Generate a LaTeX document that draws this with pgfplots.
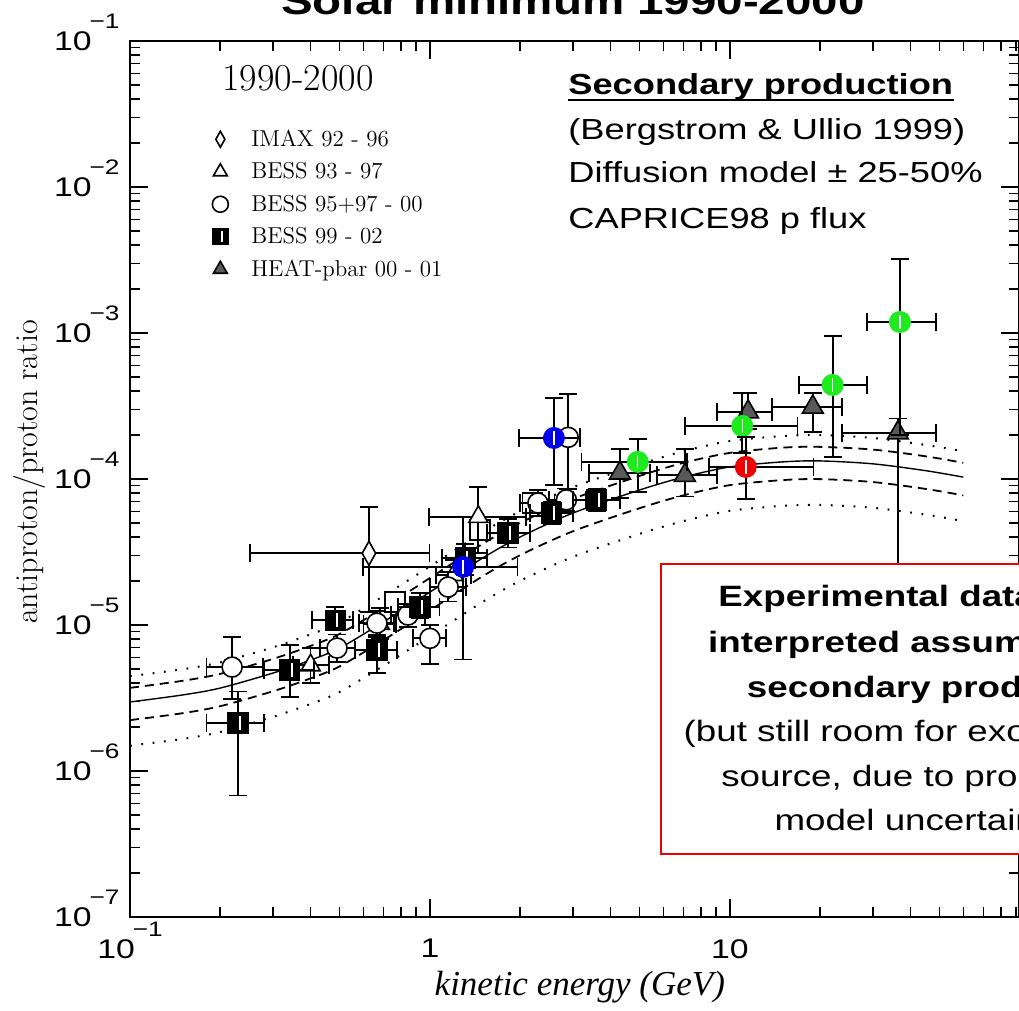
\documentclass[border=0pt]{standalone}
\usepackage{fontspec}
\usepackage{graphicx}
\usepackage{pgfplots}
\pgfplotsset{compat=1.18}
\newfontfamily\arialw[FakeStretch=1.25]{Liberation Sans}
\newfontfamily\timesf{Liberation Serif}
\definecolor{pgreen}{RGB}{30,235,30}
\definecolor{pblue}{RGB}{0,0,235}
\definecolor{pred}{RGB}{240,0,0}

\pgfdeclareplotmark{stripesq}{%
  \pgfpathrectangle{\pgfqpoint{-\pgfplotmarksize}{-\pgfplotmarksize}}{\pgfqpoint{2\pgfplotmarksize}{2\pgfplotmarksize}}%
  \pgfusepathqfillstroke
  \pgfscope
  \pgfsetstrokecolor{white}\pgfsetlinewidth{0.8pt}%
  \pgfpathmoveto{\pgfqpoint{0.2\pgfplotmarksize}{-0.7\pgfplotmarksize}}%
  \pgfpathlineto{\pgfqpoint{0.2\pgfplotmarksize}{0.7\pgfplotmarksize}}%
  \pgfusepathqstroke
  \endpgfscope}
\pgfdeclareplotmark{stripecirc}{%
  \pgfpathcircle{\pgfpointorigin}{\pgfplotmarksize}%
  \pgfusepathqfill
  \pgfscope
  \pgfsetstrokecolor{white}\pgfsetlinewidth{0.7pt}%
  \pgfpathmoveto{\pgfqpoint{0pt}{-0.6\pgfplotmarksize}}%
  \pgfpathlineto{\pgfqpoint{0pt}{0.6\pgfplotmarksize}}%
  \pgfusepathqstroke
  \endpgfscope}

\newcommand{\tenexp}[1]{10\kern-1pt\smash{\raisebox{0.8em}{\fontsize{10.5}{10.5}\selectfont −#1}}}

\pgfplotsset{
  ebar/.style={only marks,
    error bars/x dir=both, error bars/x explicit,
    error bars/y dir=both, error bars/y explicit,
    error bars/error bar style={line width=0.9pt, black},
    error bars/error mark options={rotate=90, mark size=4.5pt, line width=0.9pt, black}},
}

\begin{document}
\begin{tikzpicture}
\begin{axis}[
  scale only axis, width=444.5pt, height=438pt,
  xmode=log, ymode=log,
  xmin=0.1, xmax=92, ymin=1e-7, ymax=1e-1,
  clip mode=individual,
  axis line style={line width=1.1pt},
  major tick style={line width=0.8pt, black},
  minor tick style={line width=0.8pt, black},
  major tick length=9pt, minor tick length=5pt,
  xtick={0.1,1,10}, xticklabels={\tenexp{1},1,10},
  minor xtick={0.2,0.3,0.4,0.5,0.6,0.7,0.8,0.9,2,3,4,5,6,7,8,9,20,30,40,50,60,70,80,90},
  ytick={1e-7,1e-6,1e-5,1e-4,1e-3,1e-2,1e-1},
  yticklabels={\tenexp{7},\tenexp{6},\tenexp{5},\tenexp{4},\tenexp{3},\tenexp{2},\tenexp{1}},
  minor ytick={2e-7,3e-7,4e-7,5e-7,6e-7,7e-7,8e-7,9e-7,
    2e-6,3e-6,4e-6,5e-6,6e-6,7e-6,8e-6,9e-6,
    2e-5,3e-5,4e-5,5e-5,6e-5,7e-5,8e-5,9e-5,
    2e-4,3e-4,4e-4,5e-4,6e-4,7e-4,8e-4,9e-4,
    2e-3,3e-3,4e-3,5e-3,6e-3,7e-3,8e-3,9e-3,
    2e-2,3e-2,4e-2,5e-2,6e-2,7e-2,8e-2,9e-2},
  xticklabel style={font=\arialw\fontsize{13.5}{13.5}\selectfont, anchor=north, inner sep=0pt, yshift=-11pt},
  yticklabel style={font=\arialw\fontsize{13.5}{13.5}\selectfont, anchor=east, inner sep=0pt, xshift=-5pt},
  xlabel={\timesf\itshape kinetic energy (GeV)},
  xlabel style={at={(axis description cs:0.506,-0.090)}, anchor=base, font=\fontsize{17.5}{18}\selectfont},
  ylabel={antiproton/proton ratio},
  ylabel style={at={(axis description cs:-0.1125,0.508)}, anchor=center, font=\fontsize{16}{16}\selectfont},
  legend style={at={(axis description cs:0.0922,0.902)}, anchor=north west, draw=none, fill=none,
    font=\fontsize{11.5}{13}\selectfont, inner sep=0pt, row sep=4.25pt,
    nodes={inner sep=1.5pt, text height=8pt, text depth=1pt},
    /tikz/every odd column/.append style={column sep=10pt}},
  legend image post style={mark size=4pt},
  legend cell align=left,
]
% model curves
\addplot[black, line width=0.7pt, smooth, forget plot] coordinates {
(0.1,2.97e-6) (0.15,3.32e-6) (0.2,3.70e-6) (0.3,4.69e-6) (0.4,5.75e-6) (0.5,6.95e-6) (0.7,1.05e-5) (1,1.68e-5) (1.5,2.88e-5) (2,4.01e-5) (3,5.85e-5) (5,8.41e-5) (7,1.03e-4) (10,1.21e-4) (15,1.31e-4) (20,1.33e-4) (30,1.27e-4) (45,1.14e-4) (60,1.03e-4)};
\addplot[black, line width=0.9pt, smooth, dash pattern=on 4.5pt off 3pt, forget plot] coordinates {
(0.1,3.71e-6) (0.15,4.15e-6) (0.2,4.63e-6) (0.3,5.86e-6) (0.4,7.19e-6) (0.5,8.69e-6) (0.7,1.31e-5) (1,2.10e-5) (1.5,3.60e-5) (2,5.01e-5) (3,7.31e-5) (5,1.05e-4) (7,1.29e-4) (10,1.51e-4) (15,1.64e-4) (20,1.66e-4) (30,1.59e-4) (45,1.43e-4) (60,1.29e-4)};
\addplot[black, line width=0.9pt, smooth, dash pattern=on 4.5pt off 3pt, forget plot] coordinates {
(0.1,2.23e-6) (0.15,2.49e-6) (0.2,2.78e-6) (0.3,3.52e-6) (0.4,4.31e-6) (0.5,5.21e-6) (0.7,7.88e-6) (1,1.26e-5) (1.5,2.16e-5) (2,3.01e-5) (3,4.39e-5) (5,6.31e-5) (7,7.73e-5) (10,9.08e-5) (15,9.83e-5) (20,9.98e-5) (30,9.53e-5) (45,8.55e-5) (60,7.73e-5)};
\addplot[black, line width=1pt, smooth, dash pattern=on 0.9pt off 4.8pt, forget plot] coordinates {
(0.1,4.46e-6) (0.15,4.98e-6) (0.2,5.55e-6) (0.3,7.04e-6) (0.4,8.63e-6) (0.5,1.04e-5) (0.7,1.58e-5) (1,2.52e-5) (1.5,4.32e-5) (2,6.02e-5) (3,8.78e-5) (5,1.26e-4) (7,1.55e-4) (10,1.82e-4) (15,1.97e-4) (20,2.00e-4) (30,1.91e-4) (45,1.71e-4) (60,1.55e-4)};
\addplot[black, line width=1pt, smooth, dash pattern=on 0.9pt off 4.8pt, forget plot] coordinates {
(0.1,1.49e-6) (0.15,1.66e-6) (0.2,1.85e-6) (0.3,2.35e-6) (0.4,2.88e-6) (0.5,3.48e-6) (0.7,5.25e-6) (1,8.40e-6) (1.5,1.44e-5) (2,2.01e-5) (3,2.93e-5) (5,4.21e-5) (7,5.15e-5) (10,6.05e-5) (15,6.55e-5) (20,6.65e-5) (30,6.35e-5) (45,5.70e-5) (60,5.15e-5)};
% extra open squares
\addplot[black, only marks, mark=square*, mark size=5pt, mark options={fill=white, draw=black, line width=0.8pt}, forget plot] coordinates {
(0.764,1.44e-5) (1.47,4.48e-5) (2.2,6.85e-5)};
% IMAX
\addplot[black, mark=diamond*, mark size=6pt, mark options={fill=white, draw=black, line width=0.8pt, xscale=0.75}, ebar]
 table[x=x,y=y,x error minus=xm,x error plus=xp,y error minus=ym,y error plus=yp] {
x y xm xp ym yp
0.626 3.1e-5 0.375 0.37 1.87e-5 3.3e-5
};
\addlegendentry{IMAX 92 - 96}
% BESS 93-97
\addplot[black, mark=triangle*, mark size=5.5pt, mark options={fill=white, draw=black, line width=0.8pt}, ebar]
 table[x=x,y=y,x error minus=xm,x error plus=xp,y error minus=ym,y error plus=yp] {
x y xm xp ym yp
0.40 5.3e-6 0.05 0.06 1.3e-6 1.7e-6
0.68 1.02e-5 0.08 0.09 2.2e-6 2.8e-6
1.20 2.2e-5 0.15 0.17 5e-6 6e-6
1.45 5.5e-5 0.46 0.64 2.4e-5 3.3e-5
};
\addlegendentry{BESS 93 - 97}
% BESS 95+97-00
\addplot[black, mark=*, mark size=5pt, mark options={fill=white, draw=black, line width=0.8pt}, ebar]
 table[x=x,y=y,x error minus=xm,x error plus=xp,y error minus=ym,y error plus=yp] {
x y xm xp ym yp
0.219 5.15e-6 0.039 0.058 2.05e-6 3.15e-6
0.49 6.95e-6 0.06 0.07 1.35e-6 1.65e-6
0.666 1.03e-5 0.086 0.094 1.8e-6 2.2e-6
0.845 1.17e-5 0.105 0.115 2.0e-6 2.3e-6
1.0 8.1e-6 0.12 0.13 2.7e-6 1.9e-6
1.15 1.82e-5 0.15 0.17 3.7e-6 4.8e-6
2.29 6.85e-5 0.29 0.31 1.25e-5 1.55e-5
2.85 7.2e-5 0.35 0.45 1.2e-5 1.4e-5
2.89 1.93e-4 0.29 0.28 1.08e-4 1.87e-4
};
\addlegendentry{BESS 95+97 - 00}
% BESS 99-02
\addplot[black, mark=stripesq, mark size=5pt, mark options={fill=black, draw=black, line width=0.6pt}, ebar]
 table[x=x,y=y,x error minus=xm,x error plus=xp,y error minus=ym,y error plus=yp] {
x y xm xp ym yp
0.229 2.13e-6 0.049 0.051 1.45e-6 1.37e-6
0.341 4.92e-6 0.061 0.069 1.7e-6 2.4e-6
0.483 1.08e-5 0.079 0.070 1.6e-6 2.5e-6
0.666 6.75e-6 0.103 0.109 2.05e-6 1.55e-6
0.926 1.33e-5 0.145 0.150 2.1e-6 3.3e-6
1.31 2.88e-5 0.21 0.24 6.8e-6 7.2e-6
1.82 4.27e-5 0.27 0.33 8.7e-6 1.03e-5
2.55 5.85e-5 0.40 0.45 9.5e-6 1.15e-5
3.60 7.18e-5 0.60 0.70 1.18e-5 1.42e-5
};
\addlegendentry{BESS 99 - 02}
% HEAT-pbar
\addplot[black, mark=triangle*, mark size=6pt, mark options={fill=black!65, draw=black, line width=0.8pt}, ebar]
 table[x=x,y=y,x error minus=xm,x error plus=xp,y error minus=ym,y error plus=yp] {
x y xm xp ym yp
4.30 1.10e-4 0.9 1.1 3.6e-5 5.0e-5
7.08 1.06e-4 1.38 1.97 3.0e-5 5.4e-5
11.5 2.88e-4 2.45 2.3 6.8e-5 1.02e-4
18.9 3.11e-4 5.1 4.8 1.01e-4 7.9e-5
36.3 2.07e-4 12.6 12.4 2.06e-4 5.3e-5
};
\addlegendentry{HEAT-pbar 00 - 01}
% coloured points
\addplot[black, mark=stripecirc, mark size=5.5pt, mark options={fill=pblue}, ebar, forget plot]
 table[x=x,y=y,x error minus=xm,x error plus=xp,y error minus=ym,y error plus=yp] {
x y xm xp ym yp
1.29 2.5e-5 0.692 0.67 1.92e-5 3.0e-5
2.59 1.91e-4 0.61 0.58 1.0e-4 1.69e-4
};
\addplot[black, mark=stripecirc, mark size=5.5pt, mark options={fill=pgreen}, ebar, forget plot]
 table[x=x,y=y,x error minus=xm,x error plus=xp,y error minus=ym,y error plus=yp] {
x y xm xp ym yp
4.93 1.31e-4 1.73 2.27 5.0e-5 5.7e-5
11.0 2.31e-4 3.9 5.8 8.1e-5 1.59e-4
22.0 4.41e-4 5.0 6.6 3.0e-4 5.09e-4
36.9 1.19e-3 8.3 11.8 9.9e-4 2.01e-3
};
\addplot[black, mark=stripecirc, mark size=5.5pt, mark options={fill=pred}, ebar, forget plot]
 table[x=x,y=y,x error minus=xm,x error plus=xp,y error minus=ym,y error plus=yp] {
x y xm xp ym yp
11.3 1.21e-4 2.8 7.7 4.8e-5 7.3e-5
};
% annotations
\node[font=\arialw\bfseries\fontsize{19}{19}\selectfont, anchor=base] at (axis description cs:0.4983,1.0308) {Solar minimum 1990-2000};
\node[font=\fontsize{19}{19}\selectfont, anchor=base] at (axis description cs:0.189,0.944) {1990-2000};
\node[font=\arialw\bfseries\fontsize{14.5}{14.5}\selectfont, anchor=base west, inner sep=0pt] (sp) at (axis description cs:0.4927,0.9384) {Secondary production};
\draw[line width=1pt] ([yshift=-2.6pt]sp.base west) -- ([yshift=-2.6pt]sp.base east);
\node[font=\arialw\fontsize{14.5}{14.5}\selectfont, anchor=base west, inner sep=0pt] at (axis description cs:0.4927,0.8881) {(Bergstrom \& Ullio 1999)};
\node[font=\arialw\fontsize{14.5}{14.5}\selectfont, anchor=base west, inner sep=0pt] at (axis description cs:0.4927,0.8379) {Diffusion model ± 25-50\%};
\node[font=\arialw\fontsize{14.5}{14.5}\selectfont, anchor=base west, inner sep=0pt] at (axis description cs:0.4927,0.7865) {CAPRICE98 p flux};
\draw[pred, line width=1.3pt, fill=white] (axis description cs:0.5973,0.0719) rectangle (axis description cs:1.23,0.4030);
\node[font=\arialw\bfseries\fontsize{14.7}{14.7}\selectfont, anchor=base, inner sep=0pt] at (axis description cs:0.9111,0.3539) {Experimental data can be};
\node[font=\arialw\bfseries\fontsize{14.7}{14.7}\selectfont, anchor=base, inner sep=0pt] at (axis description cs:0.9111,0.3025) {interpreted assuming pure};
\node[font=\arialw\bfseries\fontsize{14.7}{14.7}\selectfont, anchor=base, inner sep=0pt] at (axis description cs:0.9111,0.2511) {secondary production};
\node[font=\arialw\fontsize{14.7}{14.7}\selectfont, anchor=base, inner sep=0pt] at (axis description cs:0.9111,0.2009) {(but still room for exotic primary};
\node[font=\arialw\fontsize{14.7}{14.7}\selectfont, anchor=base, inner sep=0pt] at (axis description cs:0.9111,0.1495) {source, due to propagation};
\node[font=\arialw\fontsize{14.7}{14.7}\selectfont, anchor=base, inner sep=0pt] at (axis description cs:0.9111,0.0982) {model uncertainties)};
\end{axis}
\pgfresetboundingbox
\path (current axis.south west) ++(-65pt,-47pt) rectangle ++(509.5pt,505.5pt);
\end{tikzpicture}
\end{document}
